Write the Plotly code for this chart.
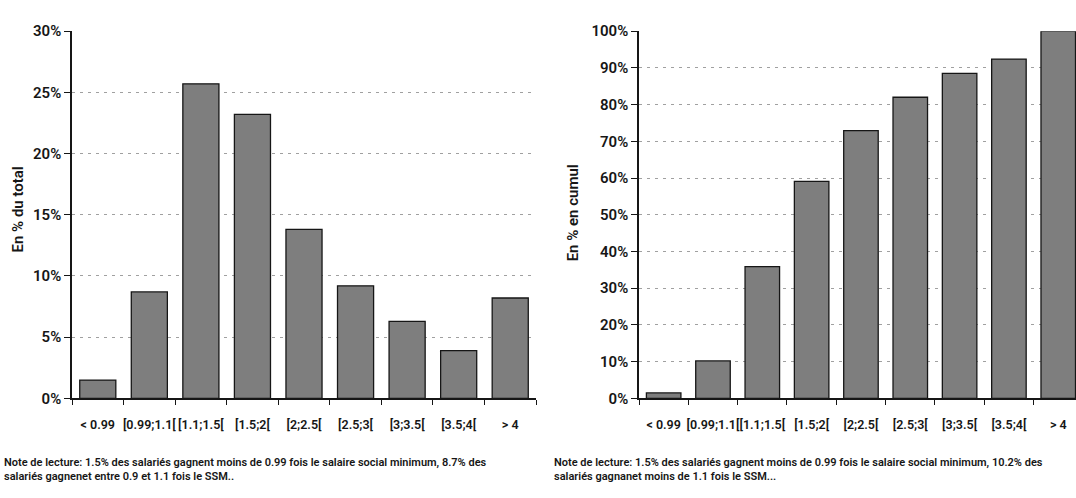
import plotly.graph_objects as go

# Wage classes, expressed as multiples of the social minimum wage (SSM)
categories = ["< 0.99", "[0.99;1.1[", "[1.1;1.5[", "[1.5;2[", "[2;2.5[",
              "[2.5;3[", "[3;3.5[", "[3.5;4[", "> 4"]

# Share of employees in each class (% of total)
share_of_total = [1.5, 8.7, 25.7, 23.2, 13.8, 9.2, 6.3, 3.9, 8.2]

# Cumulative share of employees (%)
cumulative_share = [1.5, 10.2, 35.9, 59.1, 72.9, 82.0, 88.5, 92.4, 100.0]

left_ticks = [0, 5, 10, 15, 20, 25, 30]
right_ticks = [0, 10, 20, 30, 40, 50, 60, 70, 80, 90, 100]

note_left = ("Note de lecture: 1.5% des salariés gagnent moins de 0.99 fois le salaire social minimum, 8.7% des"
             "<br>salariés gagnenet entre 0.9 et 1.1 fois le SSM..")
note_right = ("Note de lecture: 1.5% des salariés gagnent moins de 0.99 fois le salaire social minimum, 10.2% des"
              "<br>salariés gagnanet moins de 1.1 fois le SSM...")

FONT = "Roboto, Liberation Sans, sans-serif"
W, H = 1076, 498
BAR_FILL = "#7e7e7e"
GRID = "#a0a0a0"
INK = "#161616"


def px_x(p):
    return p / W


def px_y(p):
    return 1 - p / H


fig = go.Figure()

fig.add_trace(go.Bar(
    x=categories, y=share_of_total, xaxis="x", yaxis="y", width=0.7,
    marker=dict(color=BAR_FILL, line=dict(color=INK, width=1.3)),
    showlegend=False,
))
fig.add_trace(go.Bar(
    x=categories, y=cumulative_share, xaxis="x2", yaxis="y2", width=0.7,
    marker=dict(color=BAR_FILL, line=dict(color=INK, width=1.3)),
    showlegend=False,
))

common_x = dict(
    type="category", showline=True, linecolor=INK, linewidth=1.5,
    ticks="outside", ticklen=5, tickwidth=1.2, tickcolor=INK,
    tickson="boundaries", showgrid=False, zeroline=False, tickangle=0,
    tickfont=dict(family=FONT, size=12.5, color=INK, weight=600),
    ticklabelstandoff=14,
)
common_y = dict(
    showline=True, linecolor=INK, linewidth=1.5,
    ticks="outside", ticklen=6, tickwidth=1.2, tickcolor=INK,
    showgrid=True, gridcolor=GRID, gridwidth=1, griddash="3px,5px",
    zeroline=False,
    tickfont=dict(family=FONT, size=15, color=INK, weight=600),
)

y_dom = [px_y(404), px_y(23)]

fig.update_layout(
    width=W, height=H,
    margin=dict(l=0, r=0, t=0, b=0),
    paper_bgcolor="white", plot_bgcolor="white",
    bargap=0.3,
    xaxis=dict(domain=[px_x(72), px_x(536)], range=[-0.5, 8.5], anchor="y", **common_x),
    yaxis=dict(domain=y_dom, range=[0, 30], anchor="x",
               tickvals=left_ticks, ticktext=[f"{v}%" for v in left_ticks], **common_y),
    xaxis2=dict(domain=[px_x(639), 1.0], range=[-0.5, 8.36], anchor="y2", **common_x),
    yaxis2=dict(domain=y_dom, range=[0, 100], anchor="x2",
                tickvals=right_ticks, ticktext=[f"{v}%" for v in right_ticks], **common_y),
    annotations=[
        dict(text="En % du total", xref="paper", yref="paper", x=px_x(18), y=px_y(208),
             textangle=-90, showarrow=False, xanchor="center", yanchor="middle",
             font=dict(family=FONT, size=15, color=INK, weight=600)),
        dict(text="En % en cumul", xref="paper", yref="paper", x=px_x(573), y=px_y(212),
             textangle=-90, showarrow=False, xanchor="center", yanchor="middle",
             font=dict(family=FONT, size=15, color=INK, weight=600)),
        dict(text=note_left, xref="paper", yref="paper", x=px_x(2), y=px_y(462),
             showarrow=False, xanchor="left", yanchor="top", align="left",
             font=dict(family=FONT, size=11, color=INK, weight=600)),
        dict(text=note_right, xref="paper", yref="paper", x=px_x(552), y=px_y(462),
             showarrow=False, xanchor="left", yanchor="top", align="left",
             font=dict(family=FONT, size=11, color=INK, weight=600)),
    ],
)

fig.write_html("out.html")
